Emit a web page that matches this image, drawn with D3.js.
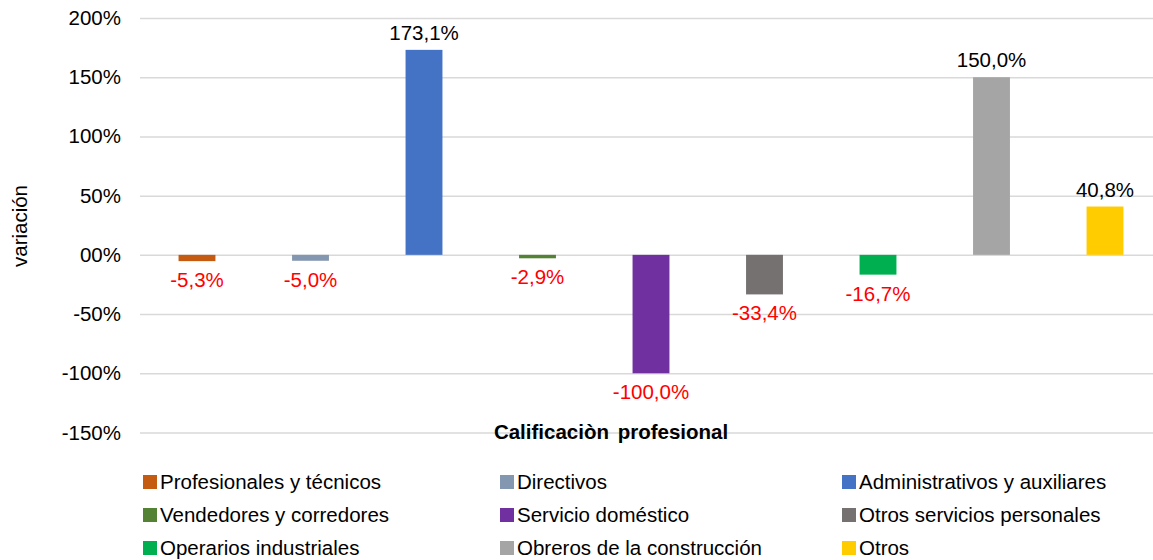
<!DOCTYPE html>
<html>
<head>
<meta charset="utf-8">
<script src="https://cdn.jsdelivr.net/npm/d3@7"></script>
<style>
  body { margin: 0; background: #fff; }
  svg { display: block; font-family: "Liberation Sans", Arial, Helvetica, sans-serif; }
</style>
</head>
<body>
<div id="chart"></div>
<script>
// categories and values (variation in %)
const categories = [
  'Profesionales y técnicos', 'Directivos', 'Administrativos y auxiliares',
  'Vendedores y corredores', 'Servicio doméstico', 'Otros servicios personales',
  'Operarios industriales', 'Obreros de la construcción', 'Otros'
];
const values = [-5.3, -5.0, 173.1, -2.9, -100.0, -33.4, -16.7, 150.0, 40.8];
const colors = ['#C55A11', '#8497B0', '#4472C4', '#548235', '#7030A0', '#767171', '#00B050', '#A5A5A5', '#FFCC00'];
const tickValues = [-150, -100, -50, 0, 50, 100, 150, 200];
const tickLabels = ['-150%', '-100%', '-50%', '00%', '50%', '100%', '150%', '200%'];

const width = 1153, height = 560;
const fontSize = 20.5;

const svg = d3.select('#chart').append('svg')
  .attr('width', width)
  .attr('height', height);

// scales
const x = d3.scaleBand()
  .domain(categories)
  .range([140.25, 1161.75])
  .paddingInner(0.675)
  .paddingOuter(0.3375);

const y = d3.scaleLinear()
  .domain([-150, 200])
  .range([432.5, 18]);

// gridlines + tick labels
const yAxis = d3.axisLeft(y)
  .tickValues(tickValues)
  .tickFormat((d, i) => tickLabels[i])
  .tickSize(-(width + 20 - 140))
  .tickPadding(19);

svg.append('g')
  .attr('transform', 'translate(140,0)')
  .call(yAxis)
  .call(g => g.select('.domain').remove())
  .call(g => g.selectAll('.tick line').attr('stroke', '#d9d9d9').attr('stroke-width', 1.5))
  .call(g => g.selectAll('.tick text')
    .attr('fill', '#000')
    .style('font-size', fontSize + 'px')
    .style('font-family', '"Liberation Sans", Arial, sans-serif'));

// bars
svg.append('g').selectAll('rect')
  .data(values)
  .join('rect')
    .attr('x', (d, i) => x(categories[i]))
    .attr('width', x.bandwidth())
    .attr('y', d => y(Math.max(0, d)))
    .attr('height', d => Math.abs(y(d) - y(0)))
    .attr('fill', (d, i) => colors[i]);

// value labels
const fmt = v => v.toFixed(1).replace('.', ',') + '%';
svg.append('g').selectAll('text')
  .data(values)
  .join('text')
    .attr('x', (d, i) => x(categories[i]) + x.bandwidth() / 2)
    .attr('y', d => d >= 0 ? y(d) - 10 : y(d) + 26)
    .attr('text-anchor', 'middle')
    .attr('fill', d => d < 0 ? '#FF0000' : '#000')
    .style('font-size', fontSize + 'px')
    .text(fmt);

// axis titles
svg.append('text')
  .attr('x', 611)
  .attr('y', 439)
  .attr('text-anchor', 'middle')
  .style('font-size', fontSize + 'px')
  .style('font-weight', 'bold')
  .style('word-spacing', '3px')
  .text('Calificaciòn profesional');

svg.append('text')
  .attr('transform', 'translate(27,226) rotate(-90)')
  .attr('text-anchor', 'middle')
  .style('font-size', fontSize + 'px')
  .text('variación');

// legend, 3 columns
const colX = [143, 500, 842];
const rowY = [482, 515, 548];
const legend = svg.append('g').selectAll('g')
  .data(categories)
  .join('g')
    .attr('transform', (d, i) => `translate(${colX[i % 3]},${rowY[Math.floor(i / 3)]})`);

legend.append('rect')
  .attr('x', 0).attr('y', -7)
  .attr('width', 14).attr('height', 14)
  .attr('fill', (d, i) => colors[i]);

legend.append('text')
  .attr('x', 17)
  .attr('y', 7)
  .style('font-size', fontSize + 'px')
  .text(d => d);
</script>
</body>
</html>
